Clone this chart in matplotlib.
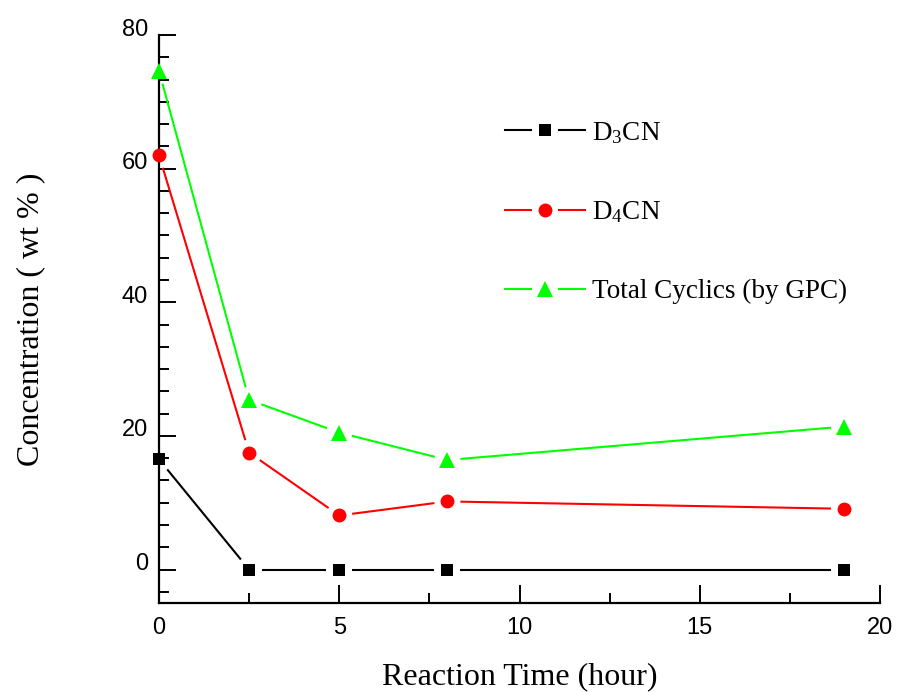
import matplotlib
matplotlib.use("Agg")
import matplotlib.pyplot as plt
from matplotlib.lines import Line2D
from matplotlib.legend_handler import HandlerBase
from matplotlib.ticker import MultipleLocator
from matplotlib.transforms import ScaledTranslation
import numpy as np

plt.rcParams['mathtext.fontset'] = 'custom'
plt.rcParams['mathtext.rm'] = 'Liberation Serif'
plt.rcParams['mathtext.it'] = 'Liberation Serif:italic'

# Reaction time (hours) and concentrations (wt %)
time_h = [0, 2.5, 5, 8, 19]
d3cn = [16.5, 0.0, 0.0, 0.0, 0.0]
d4cn = [62.0, 17.5, 8.1, 10.2, 9.1]
total_cyclics = [74.6, 25.4, 20.5, 16.4, 21.4]

series_labels = [r'$\mathrm{D_3CN}$', r'$\mathrm{D_4CN}$', 'Total Cyclics (by GPC)']
series_colors = ['black', '#ff0000', '#00ff00']
series_markers = ['s', 'o', '^']
series_msizes = [9, 10, 12]

x_label = 'Reaction Time (hour)'
y_label = 'Concentration ( wt % )'

serif = 'Liberation Serif'
sans = 'Liberation Sans'
LW = 1.5

fig = plt.figure(figsize=(8.98, 6.92), dpi=100)
ax = fig.add_axes([159 / 898, 1 - 603 / 692, (880 - 159) / 898, (603 - 35) / 692])
ax.set_xlim(0, 20)
ax.set_ylim(-5, 80)

GAP = 13  # pixels left open between a line and its markers


def gapped_line(ax, xs, ys, color, gap):
    pts = ax.transData.transform(np.column_stack([xs, ys]))
    inv = ax.transData.inverted()
    for p0, p1 in zip(pts[:-1], pts[1:]):
        d = p1 - p0
        n = np.hypot(*d)
        if n <= 2 * gap:
            continue
        u = d / n
        a = inv.transform(p0 + u * gap)
        b = inv.transform(p1 - u * gap)
        ax.plot([a[0], b[0]], [a[1], b[1]], color=color, lw=LW,
                solid_capstyle='butt', zorder=2, clip_on=False)


for ys, c, m, ms in zip([d3cn, d4cn, total_cyclics], series_colors,
                        series_markers, series_msizes):
    gapped_line(ax, time_h, ys, c, GAP)
    ax.plot(time_h, ys, linestyle='none', marker=m, ms=ms, color=c,
            markeredgewidth=0, zorder=4, clip_on=False)

for s in ['top', 'right']:
    ax.spines[s].set_visible(False)
for s in ['left', 'bottom']:
    ax.spines[s].set_linewidth(1.6)

ax.xaxis.set_major_locator(MultipleLocator(5))
ax.xaxis.set_minor_locator(MultipleLocator(2.5))
ax.set_yticks([0, 20, 40, 60, 80])
ax.set_yticks(np.arange(-10 / 3, 80, 20 / 6), minor=True)
ax.tick_params(axis='both', which='both', direction='in', width=1.4)
ax.tick_params(axis='y', which='major', length=12, pad=8)
ax.tick_params(axis='y', which='minor', length=7)
ax.tick_params(axis='x', which='major', length=13, pad=10)
ax.tick_params(axis='x', which='minor', length=7)
for lab in ax.get_xticklabels() + ax.get_yticklabels():
    lab.set_fontfamily(sans)
    lab.set_fontsize(17)
# y tick numbers sit slightly above their ticks
lift = ScaledTranslation(0, 8 / 100, fig.dpi_scale_trans)
for lab in ax.get_yticklabels():
    lab.set_transform(lab.get_transform() + lift)

ax.set_xlabel(x_label, fontfamily=serif, fontsize=23, labelpad=17)
ax.set_ylabel(y_label, fontfamily=serif, fontsize=23, labelpad=55)


class GapHandler(HandlerBase):
    def create_artists(self, legend, orig_handle, xdescent, ydescent,
                       width, height, fontsize, trans):
        y = height / 2 - ydescent
        mid = width / 2 - xdescent
        g = 10
        c = orig_handle.get_color()
        l1 = Line2D([-xdescent, mid - g], [y, y], color=c, lw=LW)
        l2 = Line2D([mid + g, width - xdescent], [y, y], color=c, lw=LW)
        mk = Line2D([mid], [y], linestyle='none', marker=orig_handle.get_marker(),
                    ms=orig_handle.get_markersize(), color=c, markeredgewidth=0)
        for a in (l1, l2, mk):
            a.set_transform(trans)
        return [l1, l2, mk]


handles = [Line2D([], [], color=c, marker=m, ms=ms)
           for c, m, ms in zip(series_colors, series_markers, series_msizes)]
leg = ax.legend(handles, series_labels, loc='upper left',
                bbox_to_anchor=(505 / 898, 1 - 120 / 692),
                bbox_transform=fig.transFigure, frameon=False,
                handler_map={Line2D: GapHandler()},
                prop={'family': serif, 'size': 19.5},
                handlelength=2.95, handletextpad=0.26, labelspacing=1.98,
                borderpad=0, borderaxespad=0)

fig.savefig('out.png', dpi=100)
